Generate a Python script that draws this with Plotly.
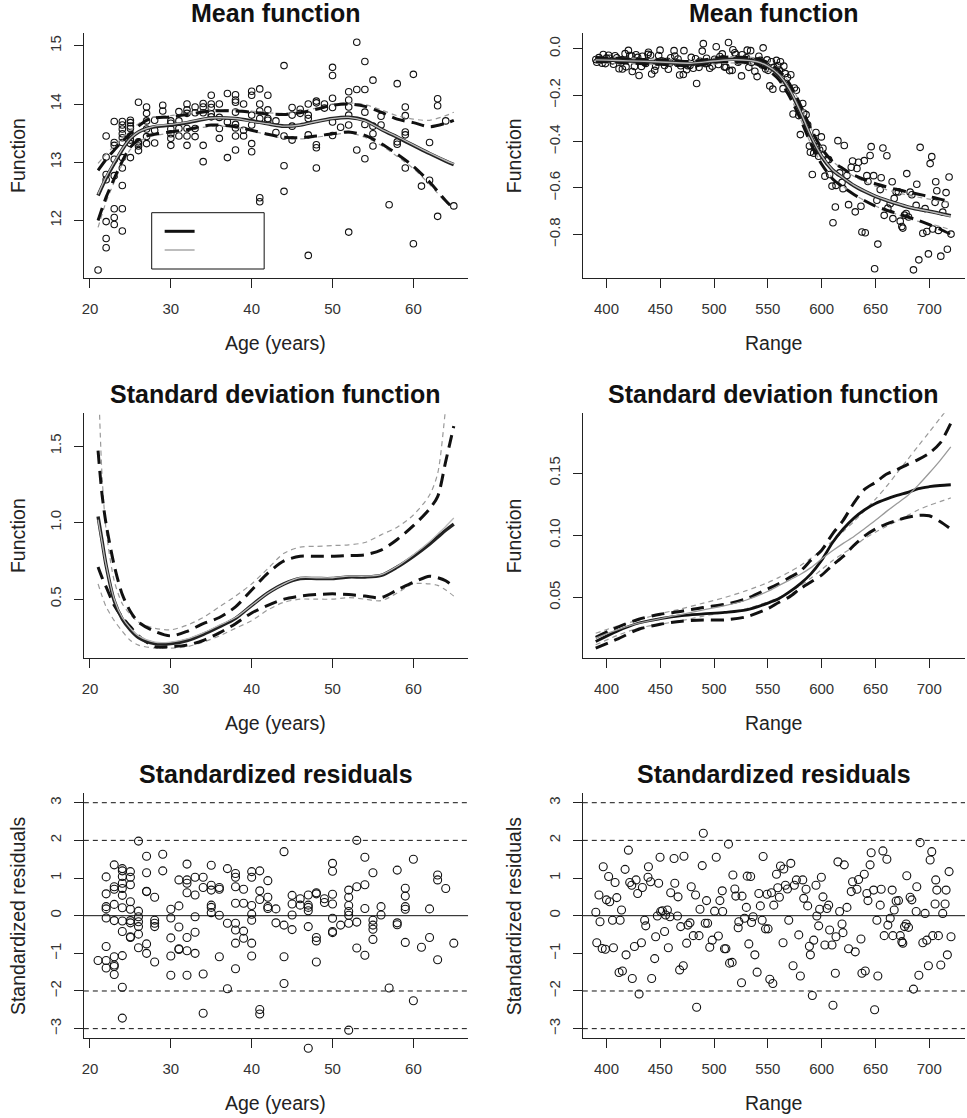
import plotly.graph_objects as go

W, H = 967, 1118
FONT = "Liberation Sans, Arial, Helvetica, sans-serif"

# ---------------- data: Age panels ----------------
age_points = {
    21: [11.15],
    22: [13.45, 13.09, 12.79, 12.70, 11.98, 11.69, 11.53],
    23: [13.70, 13.34, 13.29, 13.05, 12.77, 12.20, 12.05, 11.93],
    24: [13.70, 13.64, 13.57, 13.49, 13.42, 13.34, 13.08, 12.90, 12.60, 12.20, 11.82],
    25: [13.72, 13.68, 13.62, 13.58, 13.45, 13.38, 13.32, 13.08],
    26: [14.03, 13.35, 13.32, 13.28, 13.20],
    27: [13.95, 13.84, 13.71, 13.57, 13.44, 13.32],
    28: [13.72, 13.55, 13.33],
    29: [13.98, 13.88],
    30: [13.71, 13.67, 13.57, 13.49, 13.41, 13.29],
    31: [13.87, 13.71, 13.58, 13.45],
    32: [14.00, 13.90, 13.84, 13.58, 13.45, 13.29],
    33: [13.95, 13.85, 13.58, 13.44],
    34: [14.01, 13.95, 13.85, 13.29, 13.01],
    35: [14.15, 14.00, 13.94, 13.83, 13.78],
    36: [14.00, 13.77, 13.58, 13.41],
    37: [14.18, 13.69, 13.08],
    38: [14.16, 14.07, 14.03, 13.86, 13.65, 13.59, 13.45, 13.21],
    39: [14.00, 13.55, 13.45],
    40: [14.22, 14.15, 13.81, 13.64, 13.32, 13.18],
    41: [14.26, 14.00, 13.88, 13.75, 12.39, 12.32],
    42: [14.15, 13.90, 13.75, 13.72],
    43: [13.71, 13.51],
    44: [14.66, 13.45, 12.94, 12.50],
    45: [13.94, 13.81, 13.62, 13.38],
    46: [13.91, 13.84],
    47: [14.00, 13.81, 13.75, 13.47, 11.40],
    48: [14.05, 14.02, 13.30, 13.25, 12.90],
    49: [14.00, 13.93],
    50: [14.63, 14.49, 14.10, 13.94, 13.69, 13.46],
    51: [13.60],
    52: [14.21, 14.07, 13.95, 13.81, 13.64, 11.80],
    53: [15.06, 14.25, 13.21],
    54: [14.73, 14.25, 13.86, 13.65, 13.06],
    55: [14.41, 13.62, 13.49, 13.28],
    56: [13.79, 13.64],
    57: [12.27],
    58: [14.35, 13.35, 13.31],
    59: [13.95, 13.80, 13.52, 13.47, 12.90],
    60: [14.51, 11.60],
    61: [12.59],
    62: [13.34, 12.69],
    63: [14.09, 13.97, 12.07],
    64: [13.71],
    65: [12.25],
}

age_resid = {
    21: [-1.19],
    22: [1.03, 0.58, 0.24, 0.18, -0.06, -0.82, -1.19, -1.39],
    23: [1.35, 0.77, 0.70, 0.30, -0.13, -1.09, -1.31, -1.35, -1.56],
    24: [1.25, 1.19, 1.04, 0.86, 0.72, 0.54, 0.21, -0.14, -0.42, -1.06, -1.90, -2.72],
    25: [1.17, 1.02, 0.82, 0.37, 0.17, -0.13, -0.19, -0.56, -0.58],
    26: [1.98, 0.12, -0.03, -0.16, -0.29, -0.49, -0.85],
    27: [1.58, 1.14, 0.65, 0.64, -0.75, -1.00],
    28: [0.49, -0.12, -0.20, -0.29, -1.23],
    29: [1.63, 1.19],
    30: [0.17, -0.06, -0.59, -1.07, -1.58],
    31: [0.95, 0.26, -0.30, -0.88, -0.90],
    32: [1.37, 0.95, 0.86, 0.61, -0.58, -0.93, -1.58],
    33: [1.02, 0.55, -0.03, -0.44, -1.00],
    34: [1.02, 0.75, -1.55, -2.59],
    35: [1.34, 0.81, 0.68, 0.28, 0.22, 0.08],
    36: [0.75, 0.70, 0.01, -1.09],
    37: [1.25, -0.20, -1.94],
    38: [1.12, 1.02, 0.77, 0.33, -0.20, -0.38, -0.73, -1.41],
    39: [0.70, 0.33, -0.41, -0.60],
    40: [1.17, 1.02, 0.27, 0.04, -0.12, -0.73, -1.07],
    41: [1.19, 0.66, 0.43, -2.49, -2.61],
    42: [0.93, 0.49, 0.24, 0.19],
    43: [0.18, -0.19],
    44: [1.70, -0.25, -1.09, -1.80],
    45: [0.54, 0.31, 0.02, -0.37],
    46: [0.45, 0.28],
    47: [0.55, 0.28, 0.22, 0.13, -0.29, -3.52],
    48: [0.61, 0.58, -0.58, -0.67, -1.23],
    49: [0.45, 0.35],
    50: [1.39, 1.18, 0.57, 0.31, -0.07, -0.42, -0.45],
    51: [-0.25],
    52: [0.68, 0.49, 0.27, 0.11, 0.01, -0.20, -3.04],
    53: [2.00, 0.77, -0.17, -0.86],
    54: [1.55, 0.82, 0.19, -1.05],
    55: [1.14, -0.12, -0.25, -0.36, -0.63],
    56: [0.24, 0.02],
    57: [-1.92],
    58: [1.21, -0.19, -0.24],
    59: [0.73, 0.52, 0.24, 0.17, -0.71],
    60: [1.50, -2.26],
    61: [-0.84],
    62: [0.18, -0.58],
    63: [1.08, 0.95, -1.17],
    64: [0.72],
    65: [-0.73],
}

# mean function curves (age)
mean_age_grid = [21, 22, 23, 24, 25, 26, 27, 28, 30, 32, 35, 38, 40, 42, 44, 46, 48, 50, 52, 54, 56, 58, 60, 62, 64, 65]
mean_age_black = [12.43, 12.73, 12.98, 13.22, 13.41, 13.52, 13.58, 13.61, 13.64, 13.68, 13.76, 13.75, 13.71, 13.66, 13.62, 13.64, 13.70, 13.75, 13.77, 13.72, 13.57, 13.43, 13.29, 13.15, 13.02, 12.96]
mean_age_gray = [12.45, 12.75, 13.00, 13.23, 13.41, 13.52, 13.58, 13.62, 13.65, 13.69, 13.76, 13.75, 13.70, 13.66, 13.62, 13.64, 13.70, 13.75, 13.77, 13.71, 13.57, 13.44, 13.30, 13.16, 13.03, 12.97]
mean_age_black_up = [12.86, 13.05, 13.21, 13.36, 13.49, 13.62, 13.72, 13.76, 13.78, 13.82, 13.88, 13.88, 13.86, 13.83, 13.82, 13.85, 13.91, 13.98, 14.00, 13.96, 13.86, 13.74, 13.68, 13.61, 13.67, 13.72]
mean_age_black_lo = [12.00, 12.40, 12.72, 13.02, 13.26, 13.38, 13.45, 13.48, 13.52, 13.56, 13.64, 13.61, 13.55, 13.48, 13.43, 13.42, 13.45, 13.49, 13.52, 13.46, 13.32, 13.14, 12.93, 12.66, 12.34, 12.20]
mean_age_gray_up = [12.98, 13.14, 13.28, 13.42, 13.55, 13.66, 13.75, 13.78, 13.80, 13.84, 13.90, 13.90, 13.88, 13.85, 13.84, 13.87, 13.93, 14.00, 14.02, 13.99, 13.90, 13.80, 13.74, 13.72, 13.80, 13.86]
mean_age_gray_lo = [11.88, 12.32, 12.66, 12.97, 13.22, 13.35, 13.42, 13.46, 13.50, 13.54, 13.62, 13.60, 13.54, 13.47, 13.41, 13.40, 13.43, 13.47, 13.50, 13.43, 13.29, 13.10, 12.89, 12.62, 12.32, 12.22]

# standard deviation curves (age)
sd_age_grid = [21, 21.5, 22, 23, 24, 25, 26, 28, 30, 32, 34, 36, 38, 40, 42, 44, 46, 48, 50, 52, 54, 56, 58, 60, 62, 63, 64, 65]
sd_age_black = [1.04, 0.88, 0.72, 0.49, 0.37, 0.30, 0.25, 0.21, 0.21, 0.23, 0.27, 0.32, 0.375, 0.46, 0.54, 0.60, 0.635, 0.635, 0.635, 0.645, 0.645, 0.655, 0.71, 0.78, 0.86, 0.905, 0.95, 0.99]
sd_age_gray = [1.02, 0.87, 0.72, 0.50, 0.38, 0.31, 0.26, 0.22, 0.22, 0.24, 0.28, 0.33, 0.38, 0.46, 0.54, 0.60, 0.64, 0.64, 0.64, 0.65, 0.65, 0.66, 0.715, 0.79, 0.875, 0.925, 0.975, 1.03]
sd_age_black_up = [1.47, 1.18, 0.99, 0.72, 0.53, 0.42, 0.35, 0.29, 0.26, 0.29, 0.34, 0.38, 0.45, 0.56, 0.67, 0.75, 0.78, 0.78, 0.78, 0.785, 0.79, 0.82, 0.89, 0.98, 1.09, 1.17, 1.40, 1.63]
sd_age_black_lo = [0.71, 0.64, 0.58, 0.46, 0.38, 0.32, 0.26, 0.19, 0.19, 0.20, 0.23, 0.28, 0.34, 0.41, 0.46, 0.50, 0.52, 0.53, 0.535, 0.53, 0.52, 0.51, 0.56, 0.61, 0.65, 0.64, 0.62, 0.58]
sd_age_gray_up = [2.00, 1.30, 0.95, 0.62, 0.47, 0.40, 0.35, 0.31, 0.30, 0.33, 0.38, 0.45, 0.52, 0.60, 0.70, 0.80, 0.84, 0.845, 0.85, 0.855, 0.87, 0.92, 0.97, 1.05, 1.18, 1.32, 1.75, 2.20]
sd_age_gray_lo = [0.60, 0.52, 0.45, 0.36, 0.29, 0.23, 0.20, 0.18, 0.18, 0.19, 0.22, 0.26, 0.31, 0.36, 0.43, 0.48, 0.50, 0.50, 0.50, 0.51, 0.50, 0.49, 0.54, 0.60, 0.60, 0.59, 0.56, 0.52]

# ---------------- data: Range panels ----------------
range_x = [390.1, 391, 393, 394, 396, 397, 399, 400, 402, 403, 405.6, 406.5, 408, 409.6, 411.7, 412.7, 414, 414.8, 417.3, 418.2,
           420.4, 421.6, 423.5, 424, 426, 427.5, 429, 430.3, 432.5, 433.4, 435.5, 436.5, 438.6, 439, 441, 442, 444.8, 445.7, 447.3, 448.5,
           449.8, 450.4, 452, 454, 455, 456.6, 457.5, 459, 459.7, 462.8, 463.5, 466, 466.5, 468, 469, 471.4, 472, 474.5, 475.7, 477.6,
           478.8, 480.7, 482.8, 483.8, 486, 486.9, 489, 490, 491.8, 493, 494, 496, 498.3, 500.5, 502, 504, 505.4, 507.6, 508, 509.7,
           511, 513.4, 514.4, 516.8, 517.5, 519.3, 520.2, 522.4, 523, 525.5, 526, 528.3, 530, 530.8, 532.3, 534, 534.8, 536.3, 537.9, 540,
           541.6, 543, 544.7, 545.6, 547.8, 549.3, 550.2, 551.8, 553.3, 554.6, 555.5, 558, 559.2, 560.7, 561.7, 564.1, 564.8, 566.3, 568.2, 569.4,
           571.3, 573.4, 574.6, 576.5, 578.7, 580.2, 582.4, 583.3, 585.5, 587, 588.6, 589.5, 591.3, 592.6, 594.7, 595.5, 597.2, 598.1, 599.7, 601.2,
           603, 604.9, 606.5, 607.4, 609.6, 610.5, 612.7, 613.3, 615.1, 616.7, 618.9, 619.8, 621, 623.5, 625, 627.5, 628.7, 631.2, 632.8, 634.3,
           636.5, 637.4, 639.6, 640.5, 642, 643, 645, 646, 648.3, 649.2, 651.3, 652.2, 654.4, 655.3, 656.9, 658.1, 660.6, 661.5, 663.7, 665.5,
           666.2, 667.4, 669.2, 671.4, 673, 674.5, 675.4, 677, 678.5, 679.1, 680.7, 682.2, 683.8, 685.3, 687.8, 688.4, 690.3, 691.5, 694, 696.1,
           697.7, 699.2, 700.8, 702.3, 703.2, 705.4, 706, 707, 708.5, 710.7, 712.5, 714.7, 715.6, 716.8, 718.4, 720.2]

range_logratio = [-0.046, -0.058, -0.038, -0.050, -0.062, -0.025, -0.064, -0.040, -0.028, -0.041, -0.052, -0.067, -0.030, -0.039, -0.086, -0.053, -0.047, -0.087, -0.021, -0.078,
                  -0.007, -0.029, -0.031, -0.098, -0.076, -0.026, -0.037, -0.115, -0.076, -0.032, -0.059, -0.063, -0.024, -0.015, -0.028, -0.109, -0.093, -0.075, -0.057, -0.029,
                  -0.006, -0.053, -0.053, -0.072, -0.058, -0.054, -0.088, -0.061, -0.039, -0.008, -0.031, -0.062, -0.044, -0.113, -0.073, -0.111, -0.008, -0.090, -0.073, -0.072,
                  -0.037, -0.084, -0.043, -0.150, -0.080, -0.054, -0.010, 0.022, -0.064, -0.041, -0.062, -0.084, -0.075, -0.045, 0.009, -0.068, -0.033, -0.022, -0.043, -0.079,
                  -0.079, 0.027, -0.094, -0.093, -0.004, -0.017, -0.025, -0.058, -0.052, -0.117, -0.026, -0.050, -0.039, -0.006, -0.080, -0.008, -0.059, -0.054, -0.097, -0.120,
                  -0.032, -0.050, -0.070, 0.004, -0.087, -0.048, -0.093, -0.160, -0.056, -0.174, -0.080, -0.050, -0.072, -0.092, -0.056, -0.172, -0.075, -0.107, -0.124, -0.179,
                  -0.112, -0.281, -0.169, -0.179, -0.288, -0.370, -0.236, -0.277, -0.284, -0.328, -0.419, -0.446, -0.542, -0.450, -0.361, -0.423, -0.463, -0.436, -0.380, -0.429,
                  -0.549, -0.478, -0.478, -0.542, -0.592, -0.750, -0.682, -0.589, -0.396, -0.535, -0.576, -0.603, -0.417, -0.546, -0.672, -0.511, -0.484, -0.703, -0.516, -0.489,
                  -0.679, -0.790, -0.482, -0.793, -0.547, -0.572, -0.460, -0.422, -0.547, -0.948, -0.653, -0.842, -0.607, -0.556, -0.428, -0.718, -0.461, -0.687, -0.668, -0.573,
                  -0.732, -0.645, -0.616, -0.617, -0.743, -0.766, -0.773, -0.717, -0.710, -0.538, -0.725, -0.618, -0.629, -0.953, -0.675, -0.584, -0.910, -0.425, -0.795, -0.689,
                  -0.788, -0.884, -0.495, -0.465, -0.777, -0.662, -0.573, -0.612, -0.783, -0.894, -0.704, -0.671, -0.620, -0.864, -0.553, -0.799]

range_resid = [0.09, -0.72, 0.55, -0.16, -0.87, 1.30, -0.89, 0.42, 1.04, 0.37, -0.12, -0.85, 0.88, 0.48, -1.51, -0.12, 0.15, -1.47, 1.23, -1.04,
               1.74, 0.88, 0.81, -1.67, -0.82, 0.95, 0.59, -2.08, -0.72, 0.75, -0.12, -0.27, 1.02, 1.30, 0.90, -1.67, -1.14, -0.56, -0.01, 0.86,
               1.55, 0.11, 0.13, -0.42, 0.02, 0.15, -0.85, -0.03, 0.61, 1.52, 0.86, -0.01, 0.50, -1.44, -0.29, -1.33, 1.58, -0.73, -0.25, -0.19,
               0.77, -0.53, 0.55, -2.43, -0.53, 0.17, 1.33, 2.19, -0.20, 0.40, -0.20, -0.84, -0.65, 0.12, 1.55, -0.54, 0.40, 0.66, 0.11, -0.88,
               -0.88, 1.90, -1.26, -1.24, 1.08, 0.71, 0.52, -0.32, -0.16, -1.78, 0.52, -0.07, 0.22, 1.05, -0.75, 1.04, -0.18, -0.03, -1.04, -1.50,
               0.59, 0.26, -0.12, 1.57, -0.35, 0.57, -0.35, -1.69, 0.61, -1.80, 0.28, 1.10, 0.74, 0.49, 1.32, -0.72, 1.24, 0.81, 0.71, -0.12,
               1.39, -1.33, 0.81, 0.95, -0.51, -1.60, 0.95, 0.46, 0.70, 0.26, -0.81, -1.04, -2.12, -0.65, 0.81, -0.01, -0.27, 0.17, 1.02, 0.50,
               -0.78, 0.19, 0.28, -0.38, -0.78, -2.38, -1.53, -0.56, 1.43, 0.11, -0.22, -0.45, 1.35, 0.22, -0.88, 0.64, 0.90, -0.96, 0.70, 0.96,
               -0.62, -1.53, 1.10, -1.47, 0.59, 0.40, 1.35, 1.67, 0.68, -2.50, -0.12, -1.60, 0.28, 0.70, 1.72, -0.53, 1.50, -0.25, -0.07, 0.68,
               -0.53, 0.15, 0.39, 0.40, -0.53, -0.69, -0.73, -0.29, -0.22, 1.06, -0.31, 0.49, 0.42, -1.95, 0.11, 0.77, -1.58, 1.94, -0.72, 0.06,
               -0.65, -1.33, 1.48, 1.70, -0.53, 0.31, 0.95, 0.68, -0.53, -1.31, 0.06, 0.31, 0.68, -1.04, 1.17, -0.56]

mean_rng_grid = [390, 400, 420, 440, 460, 480, 500, 520, 540, 550, 560, 570, 580, 590, 600, 610, 620, 630, 640, 650, 660, 670, 680, 690, 700, 710, 720]
mean_rng_black = [-0.047, -0.048, -0.052, -0.056, -0.060, -0.065, -0.050, -0.045, -0.055, -0.076, -0.112, -0.177, -0.270, -0.378, -0.464, -0.522, -0.557, -0.590, -0.615, -0.636, -0.653, -0.668, -0.682, -0.692, -0.700, -0.710, -0.720]
mean_rng_gray = [-0.048, -0.049, -0.052, -0.055, -0.059, -0.062, -0.053, -0.047, -0.056, -0.075, -0.110, -0.174, -0.268, -0.376, -0.462, -0.521, -0.557, -0.589, -0.614, -0.635, -0.652, -0.667, -0.681, -0.692, -0.701, -0.711, -0.722]
mean_rng_black_up = [-0.038, -0.040, -0.043, -0.047, -0.051, -0.055, -0.041, -0.035, -0.043, -0.060, -0.092, -0.150, -0.240, -0.345, -0.430, -0.485, -0.517, -0.545, -0.565, -0.582, -0.595, -0.607, -0.617, -0.627, -0.637, -0.648, -0.660]
mean_rng_black_lo = [-0.056, -0.056, -0.061, -0.065, -0.069, -0.075, -0.059, -0.055, -0.067, -0.092, -0.132, -0.205, -0.300, -0.410, -0.498, -0.560, -0.597, -0.628, -0.655, -0.678, -0.695, -0.710, -0.725, -0.740, -0.758, -0.778, -0.800]
mean_rng_gray_up = [-0.034, -0.036, -0.040, -0.044, -0.048, -0.052, -0.040, -0.033, -0.040, -0.056, -0.088, -0.146, -0.236, -0.342, -0.428, -0.485, -0.520, -0.550, -0.573, -0.592, -0.607, -0.620, -0.631, -0.640, -0.648, -0.656, -0.664]
mean_rng_gray_lo = [-0.062, -0.062, -0.064, -0.066, -0.070, -0.072, -0.066, -0.061, -0.072, -0.094, -0.132, -0.202, -0.300, -0.410, -0.496, -0.557, -0.594, -0.628, -0.655, -0.678, -0.697, -0.714, -0.731, -0.744, -0.754, -0.766, -0.780]

sd_rng_grid = [390, 410, 430, 450, 470, 490, 510, 530, 550, 560, 570, 580, 590, 600, 610, 620, 630, 640, 650, 660, 670, 680, 690, 700, 710, 720]
sd_rng_black = [0.0146, 0.023, 0.0295, 0.033, 0.0355, 0.0368, 0.038, 0.040, 0.0455, 0.049, 0.0545, 0.061, 0.069, 0.080, 0.094, 0.105, 0.1138, 0.1205, 0.1255, 0.129, 0.132, 0.1345, 0.1375, 0.139, 0.140, 0.1406]
sd_rng_gray = [0.0173, 0.024, 0.0294, 0.033, 0.0365, 0.040, 0.0435, 0.048, 0.055, 0.0595, 0.064, 0.0685, 0.074, 0.081, 0.0875, 0.0935, 0.099, 0.1055, 0.112, 0.119, 0.1255, 0.132, 0.1405, 0.150, 0.160, 0.171]
sd_rng_black_up = [0.018, 0.026, 0.0325, 0.0365, 0.039, 0.042, 0.0445, 0.049, 0.057, 0.061, 0.066, 0.071, 0.080, 0.088, 0.101, 0.112, 0.126, 0.137, 0.1425, 0.149, 0.1527, 0.157, 0.161, 0.166, 0.174, 0.190]
sd_rng_black_lo = [0.0093, 0.0165, 0.0245, 0.0285, 0.031, 0.032, 0.032, 0.0345, 0.041, 0.046, 0.0505, 0.057, 0.0625, 0.068, 0.076, 0.083, 0.092, 0.0995, 0.105, 0.109, 0.112, 0.1145, 0.116, 0.1157, 0.111, 0.105]
sd_rng_gray_up = [0.0213, 0.027, 0.032, 0.037, 0.041, 0.0455, 0.050, 0.0555, 0.062, 0.066, 0.0705, 0.0755, 0.0815, 0.088, 0.0955, 0.103, 0.111, 0.120, 0.129, 0.139, 0.150, 0.161, 0.172, 0.183, 0.194, 0.205]
sd_rng_gray_lo = [0.012, 0.0195, 0.0255, 0.0285, 0.0315, 0.035, 0.038, 0.041, 0.0465, 0.050, 0.0545, 0.0595, 0.0655, 0.0725, 0.0795, 0.0855, 0.091, 0.0975, 0.1025, 0.107, 0.1115, 0.116, 0.1205, 0.124, 0.127, 0.130]

resid_levels_dashed = [-3, -2, 2, 3]
resid_level_solid = [0]

age_ticks = [20, 30, 40, 50, 60]
range_ticks = [400, 450, 500, 550, 600, 650, 700]
mean_age_ticks = [12, 13, 14, 15]
mean_rng_ticks = [0.0, -0.2, -0.4, -0.6, -0.8]
mean_rng_ticktext = ["0.0", "\u22120.2", "\u22120.4", "\u22120.6", "\u22120.8"]
sd_age_ticks = [0.5, 1.0, 1.5]
sd_age_ticktext = ["0.5", "1.0", "1.5"]
sd_rng_ticks = [0.05, 0.10, 0.15]
sd_rng_ticktext = ["0.05", "0.10", "0.15"]
resid_ticks = [-3, -2, -1, 0, 1, 2, 3]
resid_ticktext = ["\u22123", "\u22122", "\u22121", "0", "1", "2", "3"]

# ---------------- layout geometry (pixels) ----------------
panels = {
    1: dict(px=(82, 467), py=(33, 277.5), xr=[19.24, 66.76], yr=[11.02, 15.22]),
    2: dict(px=(582, 965), py=(33, 277.5), xr=[378.0, 733.2], yr=[-0.986, 0.068]),
    3: dict(px=(82, 467), py=(413.3, 657.5), xr=[19.24, 66.76], yr=[0.119, 1.714]),
    4: dict(px=(582, 965), py=(413.3, 657.5), xr=[378.0, 733.2], yr=[0.0018, 0.198]),
    5: dict(px=(82, 467), py=(793.3, 1037.5), xr=[19.24, 66.76], yr=[-3.235, 3.25]),
    6: dict(px=(582, 965), py=(793.3, 1037.5), xr=[378.0, 733.2], yr=[-3.235, 3.25]),
}
OVER_PX = 25  # extra room below panel 5 so an off-range residual stays visible (as in the original)

fig = go.Figure()

def ax(n):
    return ("x" if n == 1 else f"x{n}"), ("y" if n == 1 else f"y{n}")

def add_points(xa, ya, xs, ys, size):
    fig.add_trace(go.Scatter(x=xs, y=ys, mode="markers", xaxis=xa, yaxis=ya,
                             marker=dict(symbol="circle-open", size=size, color="#111",
                                         line=dict(width=1.1, color="#111")),
                             cliponaxis=False, showlegend=False, hoverinfo="skip"))

def add_line(n, xs, ys, color, width, dash="solid"):
    xa, ya = ax(n)
    fig.add_trace(go.Scatter(x=xs, y=ys, mode="lines", xaxis=xa, yaxis=ya,
                             line=dict(color=color, width=width, dash=dash, shape="spline", smoothing=0.8),
                             showlegend=False, hoverinfo="skip"))

ages_flat, age_vals = [], []
for a, vs in age_points.items():
    for v in vs:
        ages_flat.append(a)
        age_vals.append(v)
ages_res, age_res_vals = [], []
for a, vs in age_resid.items():
    for v in vs:
        ages_res.append(a)
        age_res_vals.append(v)

BLK = "#111111"
GRY = "#9a9a9a"
BDASH = "13px,7px"
GDASH = "5px,4px"

# panel 1
add_points("x", "y", ages_flat, age_vals, 6.5)
add_line(1, mean_age_grid, mean_age_gray_up, GRY, 1.2, GDASH)
add_line(1, mean_age_grid, mean_age_gray_lo, GRY, 1.2, GDASH)
add_line(1, mean_age_grid, mean_age_black_up, BLK, 3, BDASH)
add_line(1, mean_age_grid, mean_age_black_lo, BLK, 3, BDASH)
add_line(1, mean_age_grid, mean_age_black, "#222", 3.6)
add_line(1, mean_age_grid, mean_age_gray, "#b8b8b8", 1.4)

# panel 2
add_points("x2", "y2", range_x, range_logratio, 6.5)
add_line(2, mean_rng_grid, mean_rng_gray_up, GRY, 1.2, GDASH)
add_line(2, mean_rng_grid, mean_rng_gray_lo, GRY, 1.2, GDASH)
add_line(2, mean_rng_grid, mean_rng_black_up, BLK, 3, BDASH)
add_line(2, mean_rng_grid, mean_rng_black_lo, BLK, 3, BDASH)
add_line(2, mean_rng_grid, mean_rng_black, "#222", 3.6)
add_line(2, mean_rng_grid, mean_rng_gray, "#b8b8b8", 1.4)

# panel 3
add_line(3, sd_age_grid, sd_age_gray_up, GRY, 1.2, GDASH)
add_line(3, sd_age_grid, sd_age_gray_lo, GRY, 1.2, GDASH)
add_line(3, sd_age_grid, sd_age_black_up, BLK, 3, BDASH)
add_line(3, sd_age_grid, sd_age_black_lo, BLK, 3, BDASH)
add_line(3, sd_age_grid, sd_age_black, "#222", 3.4)
add_line(3, sd_age_grid, sd_age_gray, "#b8b8b8", 1.3)

# panel 4
add_line(4, sd_rng_grid, sd_rng_gray_up, GRY, 1.2, GDASH)
add_line(4, sd_rng_grid, sd_rng_gray_lo, GRY, 1.2, GDASH)
add_line(4, sd_rng_grid, sd_rng_black_up, BLK, 3, BDASH)
add_line(4, sd_rng_grid, sd_rng_black_lo, BLK, 3, BDASH)
add_line(4, sd_rng_grid, sd_rng_black, BLK, 2.8)
add_line(4, sd_rng_grid, sd_rng_gray, GRY, 1.3)

# panels 5, 6 (panel 5 points on an invisible companion y-axis with identical scale but extra room below)
add_points("x5", "y7", ages_res, age_res_vals, 8)
add_points("x6", "y6", range_x, range_resid, 8)

shapes = []
for n in (5, 6):
    xa, ya = ax(n)
    for lv in resid_levels_dashed:
        shapes.append(dict(type="line", xref=f"{xa} domain", x0=0, x1=1, yref=ya, y0=lv, y1=lv,
                           line=dict(color="#111", width=1, dash="5px,4px"), layer="below"))
    for lv in resid_level_solid:
        shapes.append(dict(type="line", xref=f"{xa} domain", x0=0, x1=1, yref=ya, y0=lv, y1=lv,
                           line=dict(color="#111", width=1), layer="below"))

# legend box (empty labels) in panel 1
def pxx(v): return v / W
def pxy(v): return 1 - v / H
shapes.append(dict(type="rect", xref="paper", yref="paper", x0=pxx(150), x1=pxx(262.7), y0=pxy(269), y1=pxy(212.7),
                   line=dict(color="#111", width=1), fillcolor="white", layer="above"))
shapes.append(dict(type="line", xref="paper", yref="paper", x0=pxx(163), x1=pxx(193), y0=pxy(231.3), y1=pxy(231.3),
                   line=dict(color="#111", width=3), layer="above"))
shapes.append(dict(type="line", xref="paper", yref="paper", x0=pxx(163), x1=pxx(193), y0=pxy(250), y1=pxy(250),
                   line=dict(color=GRY, width=1.3), layer="above"))

layout_axes = {}
tick_cfg = {
    1: (age_ticks, mean_age_ticks, None),
    2: (range_ticks, mean_rng_ticks, mean_rng_ticktext),
    3: (age_ticks, sd_age_ticks, sd_age_ticktext),
    4: (range_ticks, sd_rng_ticks, sd_rng_ticktext),
    5: (age_ticks, resid_ticks, resid_ticktext),
    6: (range_ticks, resid_ticks, resid_ticktext),
}
common = dict(showline=True, linecolor="#222", linewidth=1.2, ticks="outside", ticklen=9, tickwidth=1.2,
              tickcolor="#222", showgrid=False, zeroline=False, mirror=False,
              tickfont=dict(family=FONT, size=15, color="#333"))
for n, p in panels.items():
    xa, ya = ax(n)
    xk = "xaxis" if n == 1 else f"xaxis{n}"
    yk = "yaxis" if n == 1 else f"yaxis{n}"
    xt, yt, ytt = tick_cfg[n]
    xd = dict(domain=[p["px"][0] / W, p["px"][1] / W], range=p["xr"], anchor=ya,
              tickvals=xt, ticklabelstandoff=8, **common)
    yd = dict(domain=[1 - p["py"][1] / H, 1 - p["py"][0] / H], range=p["yr"], anchor=xa,
              tickvals=yt, tickangle=-90, ticklabelstandoff=7, **common)
    if ytt is not None:
        yd["ticktext"] = ytt
    layout_axes[xk] = xd
    layout_axes[yk] = yd

# companion axis for panel 5 points: same data-per-pixel scale, domain extended downward
p5 = panels[5]
per_px = (p5["yr"][1] - p5["yr"][0]) / (p5["py"][1] - p5["py"][0])
layout_axes["yaxis7"] = dict(domain=[1 - (p5["py"][1] + OVER_PX) / H, 1 - p5["py"][0] / H],
                             range=[p5["yr"][0] - OVER_PX * per_px, p5["yr"][1]],
                             anchor="x5", visible=False, showgrid=False, zeroline=False,
                             showline=False, ticks="")

titles = ["Mean function", "Mean function", "Standard deviation function", "Standard deviation function",
          "Standardized residuals", "Standardized residuals"]
xlabels = ["Age (years)", "Range", "Age (years)", "Range", "Age (years)", "Range"]
ylabels = ["Function", "Function", "Function", "Function", "Standardized residuals", "Standardized residuals"]

annotations = []
for n, p in panels.items():
    cx = (p["px"][0] + p["px"][1]) / 2
    annotations.append(dict(text=f"<b>{titles[n-1]}</b>", xref="paper", yref="paper", x=cx / W, y=1 - (p["py"][0] - 19.5) / H,
                            xanchor="center", yanchor="middle", showarrow=False,
                            font=dict(family=FONT, size=25, color="#111")))
    annotations.append(dict(text=xlabels[n-1], xref="paper", yref="paper", x=cx / W, y=1 - (p["py"][1] + 65) / H,
                            xanchor="center", yanchor="middle", showarrow=False,
                            font=dict(family=FONT, size=19.5, color="#222")))
    ytx = 16.7 if p["px"][0] < 300 else 513
    cy = (p["py"][0] + p["py"][1]) / 2
    annotations.append(dict(text=ylabels[n-1], xref="paper", yref="paper", x=ytx / W, y=1 - cy / H,
                            xanchor="center", yanchor="middle", showarrow=False, textangle=-90,
                            font=dict(family=FONT, size=19.5, color="#222")))

fig.update_layout(width=W, height=H, margin=dict(l=0, r=0, t=0, b=0),
                  paper_bgcolor="white", plot_bgcolor="rgba(0,0,0,0)", showlegend=False,
                  shapes=shapes, annotations=annotations, **layout_axes)

fig.write_html("out.html")
